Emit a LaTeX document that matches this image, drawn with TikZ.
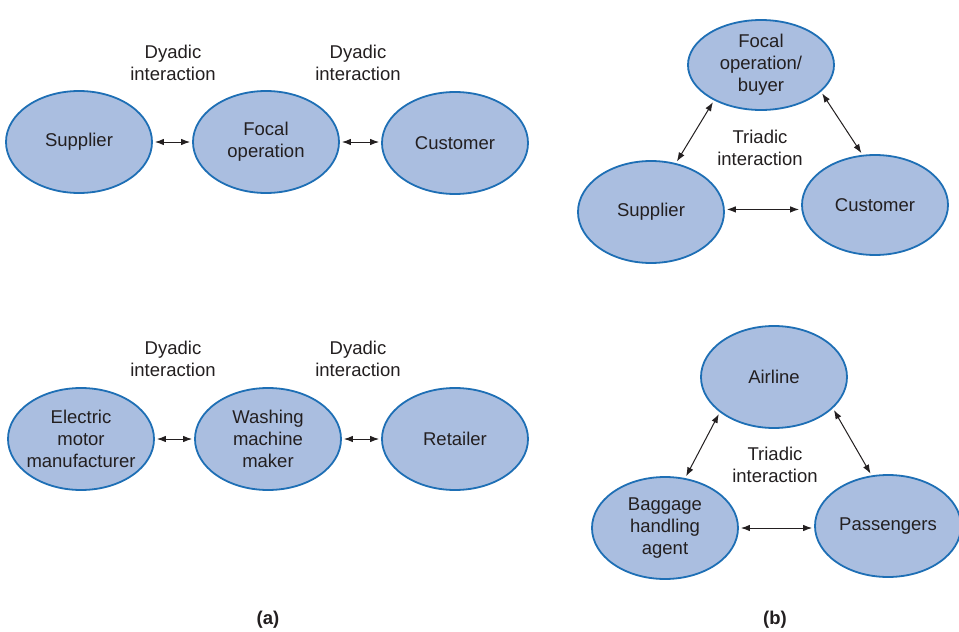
\documentclass[tikz,border=0pt]{standalone}
\usepackage{fontspec}
\setmainfont{Liberation Sans}
\usetikzlibrary{shapes.geometric,arrows.meta}
\definecolor{efill}{HTML}{AABEE0}
\definecolor{eline}{HTML}{1E6FB5}
\definecolor{txt}{HTML}{231F20}
\tikzset{
  oval/.style={ellipse, draw=eline, fill=efill, line width=1.8pt, minimum width=146pt, minimum height=102pt, inner sep=-20pt, align=center, text=txt, font=\fontsize{18.5}{22}\selectfont},
  lbl/.style={align=center, text=txt, font=\fontsize{18.5}{22}\selectfont, inner sep=0pt},
  captext/.style={text=txt, font=\fontsize{18.5}{22}\selectfont\bfseries, inner sep=0pt},
  link/.style={{Latex[length=9pt,width=6.5pt]}-{Latex[length=9pt,width=6.5pt]}, line width=1pt, draw=txt, shorten <=2pt, shorten >=2pt}
}
\begin{document}
\begin{tikzpicture}[x=1pt,y=-1pt]
\useasboundingbox[fill=white] (0,0) rectangle (959,632);
% (a) top
\node[oval] (sup1) at (79,142) {Supplier};
\node[oval] (foc1) at (266,142) {Focal\\operation};
\node[oval] (cus1) at (455,143) {Customer};
\node[lbl] (d1) at (173,63) {Dyadic\\interaction};
\node[lbl] (d2) at (358,63) {Dyadic\\interaction};
\draw[link] (sup1.east) -- (foc1.west);
\draw[link] (foc1.east) -- (foc1.east -| cus1.west);
% (a) bottom
\node[oval] (ele) at (81,439) {Electric\\motor\\manufacturer};
\node[oval] (was) at (268,439) {Washing\\machine\\maker};
\node[oval] (ret) at (455,439) {Retailer};
\node[lbl] (d3) at (173,359) {Dyadic\\interaction};
\node[lbl] (d4) at (358,359) {Dyadic\\interaction};
\draw[link] (ele.east) -- (was.west);
\draw[link] (was.east) -- (ret.west);
% (b) top
\node[oval, minimum height=90pt] (foc2) at (761,65) {Focal\\operation/\\buyer};
\node[oval] (sup2) at (651,212) {Supplier};
\node[oval, minimum height=100pt] (cus2) at (875,205) {Customer};
\node[lbl] (t1) at (760,148) {Triadic\\interaction};
\draw[link] (sup2.63) -- (foc2.217);
\draw[link] (foc2.336) -- (cus2.104);
\draw[link] (sup2.2) -- (sup2.2 -| cus2.west);
% (b) bottom
\node[oval] (air) at (774,377) {Airline};
\node[oval] (bag) at (665,528) {Baggage\\handling\\agent};
\node[oval] (pas) at (888,526) {Passengers};
\node[lbl] (t2) at (775,465) {Triadic\\interaction};
\draw[link] (bag.68) -- (air.213);
\draw[link] (air.332) -- (pas.108);
\draw[link] (bag.east) -- (bag.east -| pas.west);
% captions
\node[captext] (ca) at (268,620) {(a)};
\node[captext] (cb) at (775,620) {(b)};
\end{tikzpicture}
\end{document}
